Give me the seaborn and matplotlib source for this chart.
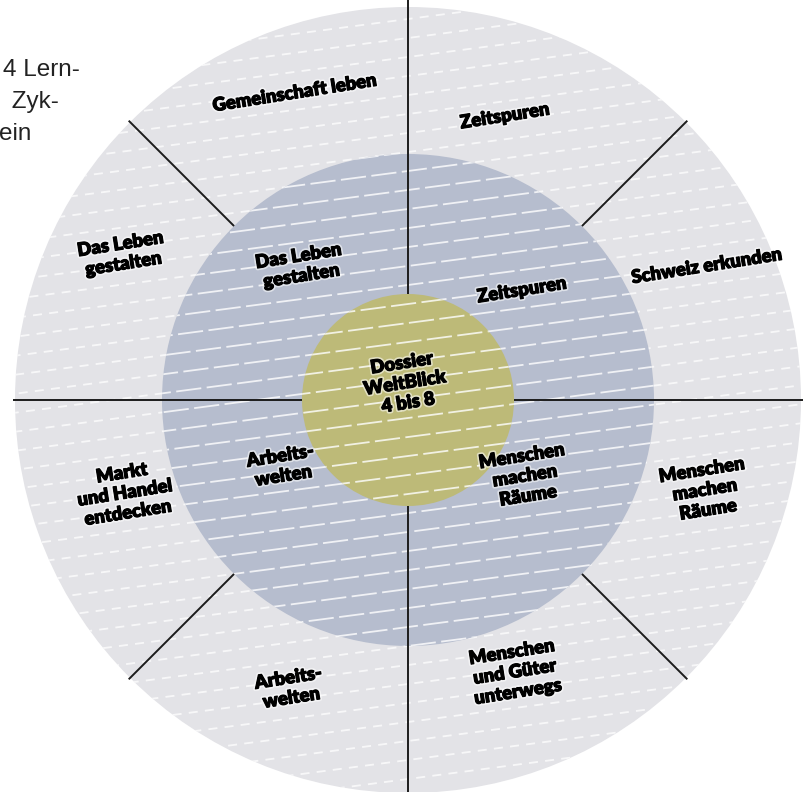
import numpy as np
import matplotlib
matplotlib.use("Agg")
import matplotlib.pyplot as plt
import matplotlib.patches as mpatches
import matplotlib.patheffects as pe
import seaborn as sns

sns.set_theme(style="white")
plt.rcParams['font.family'] = ['Lato', 'DejaVu Sans']

# ---------------- data ----------------
outer_labels = ["Gemeinschaft leben", "Zeitspuren", "Schweiz erkunden",
                "Menschen\nmachen\nRäume", "Menschen\nund Güter\nunterwegs",
                "Arbeits-\nwelten", "Markt\nund Handel\nentdecken", "Das Leben\ngestalten"]
middle_labels = ["Das Leben\ngestalten", "Zeitspuren", "Menschen\nmachen\nRäume", "Arbeits-\nwelten"]
center_label = "Dossier\nWeltBlick\n4 bis 8"
side_text = ["4 Lern-", " Zyk-", "ein"]

# ring radii (px) and divider angles (deg, math convention)
ring_radii = [393, 246, 106]
ring_colors = ["#e3e3e7", "#b6bdce", "#bdba78"]
full_dividers = [0, 90, 180, 270]
outer_dividers = [45, 135, 225, 315]

# ---------------- layout ----------------
W, H = 806, 792
cx, cy = 408, 400
outer_pos = [(295, 93), (505, 116), (707, 266), (705, 490), (515, 672),
             (290, 688), (125, 493), (122, 254)]
middle_pos = [(300, 266), (522, 290), (525, 476), (282, 466)]
center_pos = (405, 383)
side_pos = [(3, 70), (5, 102), (-1, 134)]
rot = 9

fig = plt.figure(figsize=(W / 100, H / 100), dpi=100)
ax = fig.add_axes([0, 0, 1, 1])
ax.set_xlim(0, W)
ax.set_ylim(H, 0)
ax.set_aspect('equal')
ax.axis('off')

def stripes(clip, dash, z, alpha):
    spacing = 19
    slope = np.tan(np.radians(7.5))
    xs = np.array([-20, W + 20])
    for i, k in enumerate(range(-30, 60)):
        y0 = k * spacing
        ys = y0 - slope * (xs - cx)
        ln, = ax.plot(xs, ys, color="white", lw=1.3, alpha=alpha, zorder=z,
                      linestyle=(i * 7 % 20, dash), solid_capstyle='butt')
        ln.set_clip_path(clip)

for i, (r, c) in enumerate(zip(ring_radii, ring_colors)):
    circ = mpatches.Circle((cx, cy), r, facecolor=c, edgecolor='none', zorder=1 + 2 * i)
    ax.add_patch(circ)
    dash = (5, 4) if i == 0 else (14, 3)
    stripes(circ, dash, 2 + 2 * i, 0.75 if i == 0 else 0.8)

# dividers
for a in full_dividers:
    t = np.radians(a)
    r_end = 402 if a == 90 else 395
    ax.plot([cx + ring_radii[2] * np.cos(t), cx + r_end * np.cos(t)],
            [cy - ring_radii[2] * np.sin(t), cy - r_end * np.sin(t)],
            color="#1c1c1c", lw=1.4, zorder=10, solid_capstyle='butt')
for a in outer_dividers:
    t = np.radians(a)
    ax.plot([cx + ring_radii[1] * np.cos(t), cx + (ring_radii[0] + 2) * np.cos(t)],
            [cy - ring_radii[1] * np.sin(t), cy - (ring_radii[0] + 2) * np.sin(t)],
            color="#1c1c1c", lw=1.4, zorder=10, solid_capstyle='butt')

halo = [pe.Stroke(linewidth=3.2, foreground=(1, 1, 1, 0.55)),
        pe.Stroke(linewidth=0.8, foreground='black'), pe.Normal()]
kw = dict(ha='center', va='center', rotation=rot, rotation_mode='anchor',
          fontsize=13.3, fontweight='heavy', color='black', linespacing=1.22,
          path_effects=halo, zorder=20)
for lab, (x, y) in zip(outer_labels, outer_pos):
    ax.text(x, y, lab, **kw)
for lab, (x, y) in zip(middle_labels, middle_pos):
    ax.text(x, y, lab, **kw)
ax.text(center_pos[0], center_pos[1], center_label, **kw)

for t, (x, y) in zip(side_text, side_pos):
    ax.text(x, y, t, ha='left', va='center', fontsize=17.5, color='#222222',
            family=['Liberation Sans', 'DejaVu Sans'], zorder=20)

fig.savefig("out.png", dpi=100, facecolor='white')
